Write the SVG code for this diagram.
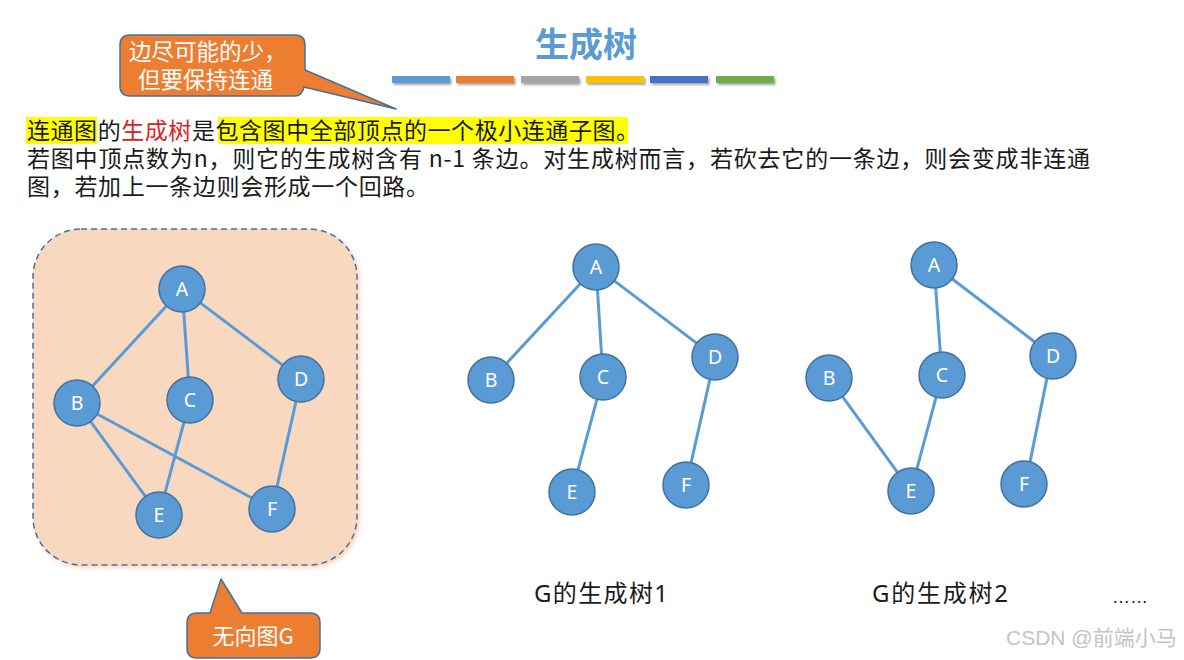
<svg xmlns="http://www.w3.org/2000/svg" width="1184" height="660" viewBox="0 0 1184 660">
<style>
.cjk{font-family:"Noto Sans CJK SC","Noto Sans",sans-serif;}
.body{font-family:"Noto Sans CJK SC",sans-serif;font-size:23px;fill:#1a1a1a;}
.node circle{fill:#5B9BD5;stroke:#41719C;stroke-width:1.5;}
.node text{font-family:"Noto Sans",sans-serif;font-size:19.5px;fill:#fff;text-anchor:middle;}
.edges line{stroke:#5B9BD5;stroke-width:3;}
.callout{fill:#ED7D31;stroke:#41719C;stroke-width:1.5;stroke-linejoin:round;}
.cap{font-family:"Noto Sans","Noto Sans CJK SC",sans-serif;font-size:24px;fill:#1a1a1a;}
</style>
<defs>
<filter id="sh" x="-10%" y="-50%" width="130%" height="300%">
<feDropShadow dx="1.5" dy="2" stdDeviation="1.2" flood-color="#000" flood-opacity="0.35"/>
</filter>
<filter id="glow" x="-5%" y="-5%" width="110%" height="110%">
<feDropShadow dx="2" dy="2" stdDeviation="2" flood-color="#F4B183" flood-opacity="0.6"/>
</filter>
</defs>
<rect width="1184" height="660" fill="#fff"/>

<!-- Title -->
<g id="title">
<text x="586" y="57" class="cjk" font-size="34" font-weight="bold" fill="#5B9BD5" text-anchor="middle">生成树</text>
<g filter="url(#sh)">
<rect x="392" y="76" width="58" height="7" fill="#5B9BD5"/>
<rect x="456" y="76" width="58" height="7" fill="#ED7D31"/>
<rect x="521" y="76" width="58" height="7" fill="#A5A5A5"/>
<rect x="586" y="76" width="58" height="7" fill="#FFC000"/>
<rect x="650" y="76" width="58" height="7" fill="#4472C4"/>
<rect x="716" y="76" width="58" height="7" fill="#70AD47"/>
</g>
</g>

<!-- Callout 1 -->
<g id="callout1">
<path class="callout" d="M130,35 H295 Q305,35 305,45 V70 L396,109 L304,87 Q302,96 295,96 H130 Q120,96 120,86 V45 Q120,35 130,35 Z"/>
<text x="129" y="60" class="cjk" font-size="22.5" fill="#fff">边尽可能的少，</text>
<text x="138" y="88" class="cjk" font-size="22.5" fill="#fff">但要保持连通</text>
</g>

<!-- Body text -->
<g id="bodytext">
<rect x="26" y="117" width="71" height="27" fill="#FFFF00"/>
<rect x="218" y="117" width="410" height="27" fill="#FFFF00"/>
<text x="27" y="139" class="body" textLength="612" lengthAdjust="spacing">连通图的<tspan fill="#E02020">生成树</tspan>是包含图中全部顶点的一个极小连通子图。</text>
<text x="27" y="167" class="body" textLength="1063" lengthAdjust="spacing">若图中顶点数为n，则它的生成树含有 n-1 条边。对生成树而言，若砍去它的一条边，则会变成非连通</text>
<text x="27" y="195" class="body" textLength="402" lengthAdjust="spacing">图，若加上一条边则会形成一个回路。</text>
</g>

<!-- Graph G container -->
<g id="graphG-box">
<rect x="33" y="229" width="324" height="336" rx="48" ry="48" fill="#F8D9C0" stroke="#41719C" stroke-width="1.5" stroke-dasharray="6 4" filter="url(#glow)"/>
</g>

<!-- Callout 2 -->
<g id="callout2">
<path class="callout" d="M197,613 H210 L221,579 L242,613 H310 Q320,613 320,623 V648 Q320,658 310,658 H197 Q187,658 187,648 V623 Q187,613 197,613 Z"/>
<text x="253" y="644" class="cjk" font-size="22" fill="#fff" text-anchor="middle">无向图G</text>
</g>

<!-- Connectors -->
<g id="connectors" class="edges">
<line x1="166.4" y1="305.9" x2="92.6" y2="386.1"/>
<line x1="183.7" y1="311.9" x2="188.3" y2="377.1"/>
<line x1="200.4" y1="302.9" x2="282.6" y2="365.1"/>
<line x1="90.6" y1="421.6" x2="145.4" y2="496.4"/>
<line x1="97.2" y1="414" x2="251.8" y2="498"/>
<line x1="184" y1="422.2" x2="165" y2="492.8"/>
<line x1="296" y1="401.4" x2="277" y2="486.6"/>
<line x1="580.3" y1="283.8" x2="506.7" y2="363.2"/>
<line x1="597.5" y1="290" x2="601.5" y2="354"/>
<line x1="614.4" y1="280.9" x2="696.6" y2="343.1"/>
<line x1="597" y1="399.2" x2="578" y2="469.8"/>
<line x1="709.9" y1="379.4" x2="691.1" y2="462.6"/>
<line x1="935.7" y1="287.9" x2="940.3" y2="352.1"/>
<line x1="952.3" y1="279" x2="1034.7" y2="342"/>
<line x1="842.5" y1="396.6" x2="897.5" y2="472.4"/>
<line x1="936.1" y1="397.2" x2="916.9" y2="468.8"/>
<line x1="1046.9" y1="378.4" x2="1030.1" y2="461.6"/>
</g>

<!-- Graph G nodes -->
<g id="G-A" class="node"><circle cx="182" cy="289" r="23"/><text x="182" y="296">A</text></g>
<g id="G-B" class="node"><circle cx="77" cy="403" r="23"/><text x="77" y="410">B</text></g>
<g id="G-C" class="node"><circle cx="190" cy="400" r="23"/><text x="190" y="407">C</text></g>
<g id="G-D" class="node"><circle cx="301" cy="379" r="23"/><text x="301" y="386">D</text></g>
<g id="G-E" class="node"><circle cx="159" cy="515" r="23"/><text x="159" y="522">E</text></g>
<g id="G-F" class="node"><circle cx="272" cy="509" r="23"/><text x="272" y="516">F</text></g>

<!-- Tree 1 nodes -->
<g id="T1-A" class="node"><circle cx="596" cy="267" r="23"/><text x="596" y="274">A</text></g>
<g id="T1-B" class="node"><circle cx="491" cy="380" r="23"/><text x="491" y="387">B</text></g>
<g id="T1-C" class="node"><circle cx="603" cy="377" r="23"/><text x="603" y="384">C</text></g>
<g id="T1-D" class="node"><circle cx="715" cy="357" r="23"/><text x="715" y="364">D</text></g>
<g id="T1-E" class="node"><circle cx="572" cy="492" r="23"/><text x="572" y="499">E</text></g>
<g id="T1-F" class="node"><circle cx="686" cy="485" r="23"/><text x="686" y="492">F</text></g>

<!-- Tree 2 nodes -->
<g id="T2-A" class="node"><circle cx="934" cy="265" r="23"/><text x="934" y="272">A</text></g>
<g id="T2-B" class="node"><circle cx="829" cy="378" r="23"/><text x="829" y="385">B</text></g>
<g id="T2-C" class="node"><circle cx="942" cy="375" r="23"/><text x="942" y="382">C</text></g>
<g id="T2-D" class="node"><circle cx="1053" cy="356" r="23"/><text x="1053" y="363">D</text></g>
<g id="T2-E" class="node"><circle cx="911" cy="491" r="23"/><text x="911" y="498">E</text></g>
<g id="T2-F" class="node"><circle cx="1024" cy="484" r="23"/><text x="1024" y="491">F</text></g>

<!-- Captions -->
<g id="captions">
<text x="534" y="602" class="cap" textLength="134" lengthAdjust="spacing">G的生成树1</text>
<text x="872" y="602" class="cap" textLength="136" lengthAdjust="spacing">G的生成树2</text>
<text x="1112" y="603" font-family="Liberation Sans,sans-serif" font-size="18" fill="#1a1a1a">……</text>
</g>

<text x="1006" y="645" font-family="Liberation Sans,'Noto Sans CJK SC',sans-serif" font-size="21" fill="#C4C4C4">CSDN @前端小马</text>
</svg>
